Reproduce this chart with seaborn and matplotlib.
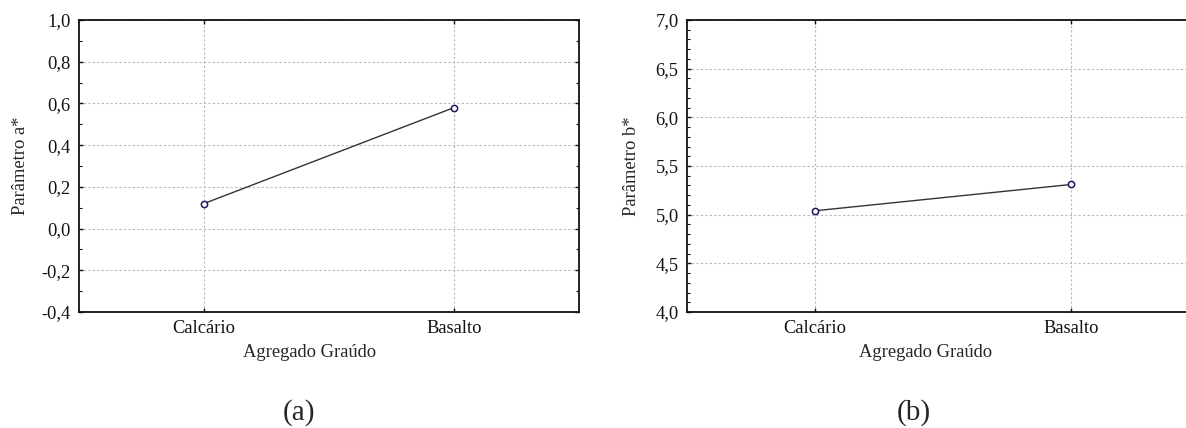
import matplotlib
matplotlib.use("Agg")
import matplotlib.pyplot as plt
from matplotlib import ticker
import seaborn as sns
import pandas as pd

categorias = ["Calcário", "Basalto"]
param_a = [0.12, 0.58]
param_b = [5.04, 5.31]

sns.set_style("white")
plt.rcParams["font.family"] = ["Liberation Serif", "DejaVu Serif"]

W, H = 1186, 428
FS = 13.3
fig = plt.figure(figsize=(W / 100, H / 100), dpi=100)

def comma(v, pos):
    return f"{v:.1f}".replace(".", ",")

def painel(ax, valores, ylabel, ylim, major, minor, xlab_x, ylab_x):
    df = pd.DataFrame({"Agregado Graúdo": categorias, ylabel: valores})
    sns.lineplot(data=df, x="Agregado Graúdo", y=ylabel, sort=False, ax=ax,
                 color="#333333", linewidth=1.0, marker="o", markersize=4.5,
                 markerfacecolor="white", markeredgecolor="#1a1a5e",
                 markeredgewidth=1.1)
    ax.set_xlim(-0.5, 1.5)
    ax.set_ylim(*ylim)
    ax.set_xticks(range(len(categorias)))
    ax.set_xticklabels(categorias)
    ax.yaxis.set_major_locator(ticker.MultipleLocator(major))
    ax.yaxis.set_minor_locator(ticker.MultipleLocator(minor))
    ax.yaxis.set_major_formatter(ticker.FuncFormatter(comma))
    ax.grid(True, which="major", linestyle=(0, (2, 2)), color="#b8b8b8",
            linewidth=0.8)
    ax.tick_params(which="both", direction="in", left=True, right=True,
                   bottom=True, top=True, labelsize=FS, colors="#111111",
                   pad=6)
    ax.tick_params(which="major", length=3, width=1.0)
    ax.tick_params(which="minor", length=2, width=0.8)
    ax.tick_params(axis="x", which="major", pad=6)
    for s in ax.spines.values():
        s.set_visible(True)
        s.set_color("#111111")
        s.set_linewidth(1.3)
    ax.set_xlabel("Agregado Graúdo", fontsize=FS)
    ax.set_ylabel(ylabel, fontsize=FS)
    ax.xaxis.set_label_coords(xlab_x, -0.11)
    ax.yaxis.set_label_coords(ylab_x, 0.5)

ax1 = fig.add_axes([79 / W, 116 / H, 500 / W, 292 / H])
painel(ax1, param_a, "Parâmetro a*", (-0.4, 1.0), 0.2, 0.1,
       (310 - 79) / 500, (29 - 79) / 500)

ax2 = fig.add_axes([687 / W, 116 / H, 512 / W, 292 / H])
painel(ax2, param_b, "Parâmetro b*", (4.0, 7.0), 0.5, 0.1,
       (926 - 687) / 512, (640 - 687) / 512)

fig.text(299 / W, 1 - 413 / H, "(a)", ha="center", va="center", fontsize=21)
fig.text(914 / W, 1 - 413 / H, "(b)", ha="center", va="center", fontsize=21)

fig.savefig("out.png", dpi=100, facecolor="white")
